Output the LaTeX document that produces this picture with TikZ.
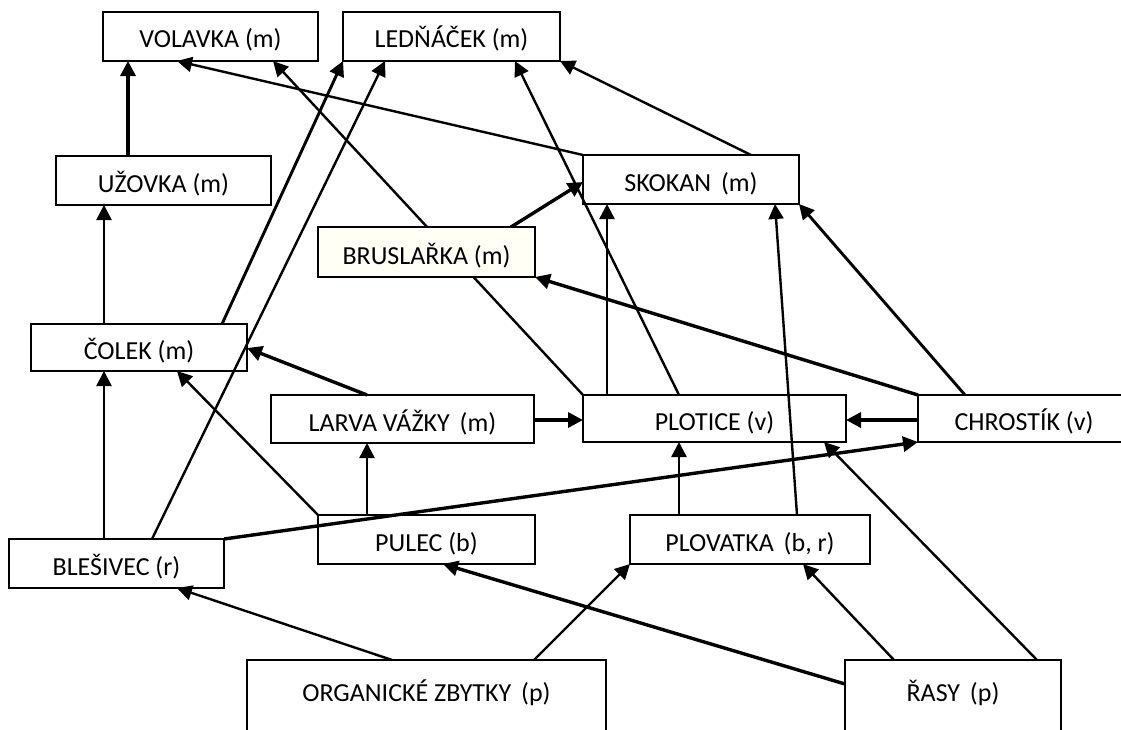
\documentclass[tikz,border=0pt]{standalone}
\usepackage{fontspec}
\setmainfont{Carlito}
\usetikzlibrary{arrows.meta}
\pgfdeclarelayer{front}
\pgfsetlayers{main,front}
\begin{document}
\begin{tikzpicture}[x=1pt,y=-1pt,
  box/.style={draw, line width=1.7pt, fill=white, inner sep=0pt, outer sep=0pt,
    anchor=north west, font=\fontsize{26}{31}\selectfont, text height=27pt, text depth=3pt},
  link/.style={line width=2.4pt, -{Triangle[length=15pt,width=15pt]}},
  thick link/.style={line width=3.4pt, -{Triangle[length=15pt,width=15pt]}}]
\useasboundingbox (0,0) rectangle (1121,729);
\fill[white] (0,0) rectangle (1121,729);
\clip (0,0) rectangle (1121,729);
% nodes
\node[box, minimum width=215pt, minimum height=49pt, text depth=5pt] (volavka) at (103,12) {VOLAVKA (m)};
\node[box, minimum width=217pt, minimum height=49pt, text depth=5pt] (lednacek) at (343,12) {LEDŇÁČEK (m)};
\node[box, minimum width=215pt, minimum height=49pt] (uzovka) at (56,156) {UŽOVKA (m)};
\node[box, minimum width=216pt, minimum height=49pt] (skokan) at (583,155) {SKOKAN\hspace{4pt} (m)};
\begin{pgfonlayer}{front}
\node[box, fill={rgb,255:red,255;green,255;blue,246}, minimum width=217pt, minimum height=50pt] (bruslarka) at (318,227) {BRUSLAŘKA (m)};
\end{pgfonlayer}
\node[box, minimum width=216pt, minimum height=47pt] (colek) at (31,324) {ČOLEK (m)};
\node[box, minimum width=263pt, minimum height=48pt] (larva) at (271,395) {LARVA VÁŽKY\hspace{4pt} (m)};
\node[box, minimum width=263pt, minimum height=47pt] (plotice) at (583,395) {PLOTICE (v)};
\node[box, minimum width=212pt, minimum height=47pt] (chrostik) at (918,395) {CHROSTÍK (v)};
\node[box, minimum width=215pt, minimum height=49pt] (blesivec) at (9,539) {BLEŠIVEC (r)};
\node[box, minimum width=217pt, minimum height=49pt] (pulec) at (318,515) {PULEC (b)};
\node[box, minimum width=240pt, minimum height=49pt] (plovatka) at (630,515) {PLOVATKA\hspace{4pt} (b, r)};
\node[box, minimum width=359pt, minimum height=100pt, text depth=44pt] (org) at (247,660) {ORGANICKÉ ZBYTKY\hspace{4pt} (p)};
\node[box, minimum width=216pt, minimum height=100pt, text depth=44pt] (rasy) at (845,660) {ŘASY\hspace{4pt} (p)};
% connectors
\draw[thick link] (uzovka.north -| 128,0) -- (volavka.south -| 128,0);
\draw[link] (skokan.north west) -- (volavka.south -| 177,0);
\draw[link] (plotice.north west) -- (volavka.south -| 273,0);
\draw[link, line width=2.9pt] (colek.north -| 222,0) -- (lednacek.south west);
\draw[link] (blesivec.north -| 152,0) -- (lednacek.south -| 385,0);
\draw[link] (plotice.north -| 679,0) -- (lednacek.south -| 515,0);
\draw[link] (skokan.north -| 751,0) -- (lednacek.south east);
\draw[thick link] (bruslarka.north -| 511,0) -- (skokan.west |- 0,182);
\draw[link] (plotice.north -| 607,0) -- (skokan.south -| 607,0);
\draw[link] (plovatka.north -| 797,0) -- (skokan.south -| 775,0);
\draw[link, line width=2.9pt] (chrostik.north -| 965,0) -- (skokan.south east);
\draw[thick link] (chrostik.north west) -- (bruslarka.south east);
\draw[thick link] (larva.north -| 367,0) -- (colek.east |- 0,348);
\draw[link] (pulec.north west) -- (colek.south -| 177,0);
\draw[link] (blesivec.north -| 104,0) -- (colek.south -| 104,0);
\draw[link] (colek.north -| 104,0) -- (uzovka.south -| 104,0);
\draw[thick link] (larva.east |- 0,420) -- (plotice.west |- 0,420);
\draw[thick link] (chrostik.west |- 0,420) -- (plotice.east |- 0,420);
\draw[link] (pulec.north -| 367,0) -- (larva.south -| 367,0);
\draw[link] (plovatka.north -| 679,0) -- (plotice.south -| 679,0);
\draw[thick link] (blesivec.north east) -- (chrostik.south west);
\draw[link] (rasy.north -| 1037,0) -- (plotice.south -| 824,0);
\draw[link] (rasy.north -| 894,0) -- (plovatka.south -| 803,0);
\draw[thick link] (rasy.west |- 0,684) -- (pulec.south -| 443,0);
\draw[link] (org.north -| 534,0) -- (plovatka.south west);
\draw[link] (org.north -| 392,0) -- (blesivec.south -| 177,0);
\end{tikzpicture}
\end{document}
